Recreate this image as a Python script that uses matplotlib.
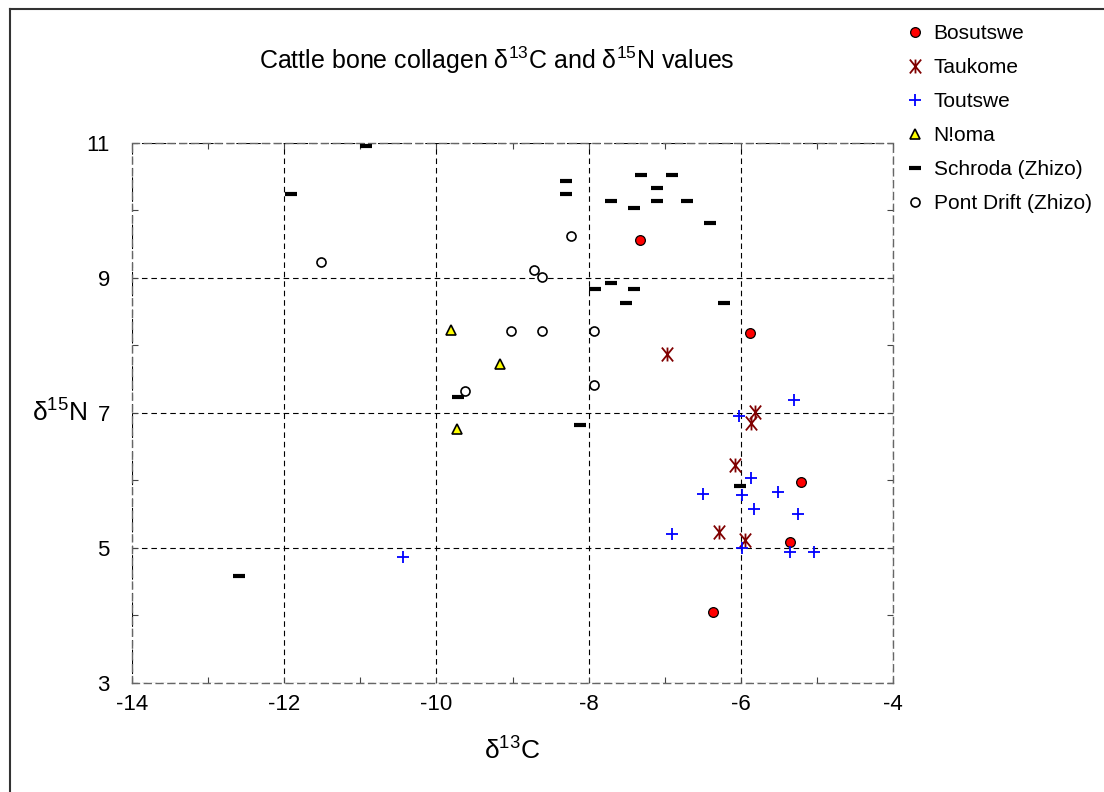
import matplotlib
matplotlib.use('Agg')
import matplotlib.pyplot as plt
from matplotlib.lines import Line2D
from matplotlib.path import Path
from matplotlib.ticker import FixedLocator

plt.rcParams['font.family'] = ['Liberation Sans', 'DejaVu Sans']
plt.rcParams['mathtext.default'] = 'regular'
plt.rcParams['axes.unicode_minus'] = False

# d13C, d15N per site
bos_x = [-7.32, -5.88, -5.21, -5.35, -6.36]
bos_y = [9.56, 8.18, 5.97, 5.09, 4.05]

tau_x = [-6.97, -5.81, -5.86, -6.07, -6.28, -5.94]
tau_y = [7.87, 7.02, 6.85, 6.22, 5.23, 5.11]

tou_x = [-5.30, -6.02, -5.87, -6.50, -5.98, -5.51, -5.83, -5.25, -6.90, -5.99, -5.36, -5.04, -10.44]
tou_y = [7.19, 6.95, 6.03, 5.80, 5.78, 5.83, 5.57, 5.50, 5.20, 5.00, 4.93, 4.93, 4.87]

nom_x = [-9.81, -9.16, -9.73]
nom_y = [8.23, 7.72, 6.76]

sch_x = [-10.93, -11.91, -12.60, -9.72, -8.30, -8.30, -7.31, -6.90, -7.10, -7.70, -7.40,
         -7.10, -6.71, -6.41, -7.92, -7.70, -7.40, -7.51, -6.22, -8.11, -6.01]
sch_y = [10.95, 10.24, 4.58, 7.23, 10.43, 10.24, 10.53, 10.53, 10.33, 10.14, 10.04,
         10.14, 10.14, 9.82, 8.83, 8.93, 8.83, 8.63, 8.63, 6.82, 5.92]

pd_x = [-11.52, -9.62, -8.23, -8.72, -8.61, -9.02, -8.61, -7.93, -7.93]
pd_y = [9.24, 7.32, 9.62, 9.12, 9.02, 8.22, 8.22, 8.22, 7.42]

x_major = [-14, -12, -10, -8, -6, -4]
x_minor = [-13, -11, -9, -7, -5]
y_major = [3, 5, 7, 9, 11]
y_minor = [4, 6, 8, 10]

# X with a vertical stroke, as in the original Taukome symbol
star = Path([(-0.65, -0.8), (0.65, 0.8), (-0.65, 0.8), (0.65, -0.8), (0, -0.8), (0, 0.8)],
            [Path.MOVETO, Path.LINETO] * 3)

fig = plt.figure(figsize=(11.04, 7.92), dpi=100)
ax = fig.add_axes([132 / 1104, 1 - 682.7 / 792, (893 - 132) / 1104, (682.7 - 143) / 792])

series = [
    (bos_x, bos_y, 'Bosutswe', dict(marker='o', ms=7, mfc='#ff0000', mec='black', mew=0.9)),
    (tau_x, tau_y, 'Taukome', dict(marker=star, ms=10, mfc='none', mec='#800000', mew=1.3)),
    (tou_x, tou_y, 'Toutswe', dict(marker='+', ms=9, mec='#0000ff', mew=1.3)),
    (nom_x, nom_y, 'N!oma', dict(marker='^', ms=7, mfc='#ffff00', mec='black', mew=1.2)),
    (sch_x, sch_y, 'Schroda (Zhizo)', dict(marker='_', ms=9, mec='black', mew=3)),
    (pd_x, pd_y, 'Pont Drift (Zhizo)', dict(marker='o', ms=6.5, mfc='white', mec='black', mew=1.2)),
]
handles = []
for xs, ys, label, style in series:
    ax.plot(xs, ys, ls='none', zorder=3, **style)
    handles.append(Line2D([], [], ls='none', label=label, **style))

ax.set_xlim(-14, -4)
ax.set_ylim(3, 11)
ax.xaxis.set_major_locator(FixedLocator(x_major))
ax.xaxis.set_minor_locator(FixedLocator(x_minor))
ax.yaxis.set_major_locator(FixedLocator(y_major))
ax.yaxis.set_minor_locator(FixedLocator(y_minor))
ax.tick_params(which='both', direction='in', length=4, width=0.8, color='#444444',
               top=True, right=True)
ax.tick_params(axis='x', labelsize=16, pad=8)
ax.tick_params(axis='y', labelsize=16, pad=16)
ax.grid(True, which='major', ls=(0, (5, 3.5)), color='black', lw=0.8)
for sp in ax.spines.values():
    sp.set_linestyle((0, (5, 3.5)))
    sp.set_color('#666666')
    sp.set_linewidth(1.0)

ax.set_xlabel('δ$^{13}$C', fontsize=19, labelpad=16)
fig.text(60 / 1104, 1 - 413 / 792, 'δ$^{15}$N', fontsize=19, ha='center', va='center')
fig.text(497 / 1104, 1 - 60 / 792, 'Cattle bone collagen δ$^{13}$C and δ$^{15}$N values',
         ha='center', va='center', fontsize=18)

fig.legend(handles=handles, loc='upper left', bbox_to_anchor=(896 / 1104, 1 - 16 / 792),
           frameon=False, fontsize=15, labelspacing=0.72, handlelength=1.0,
           handletextpad=0.4, borderaxespad=0)

# outer frame (only left/top edges fall inside the image)
fig.add_artist(Line2D([10 / 1104, 10 / 1104], [0, 1 - 9 / 792], color='#333333', lw=1.5,
                      transform=fig.transFigure))
fig.add_artist(Line2D([10 / 1104, 1], [1 - 9 / 792, 1 - 9 / 792], color='#333333', lw=1.5,
                      transform=fig.transFigure))

fig.savefig('out.png', dpi=100)
